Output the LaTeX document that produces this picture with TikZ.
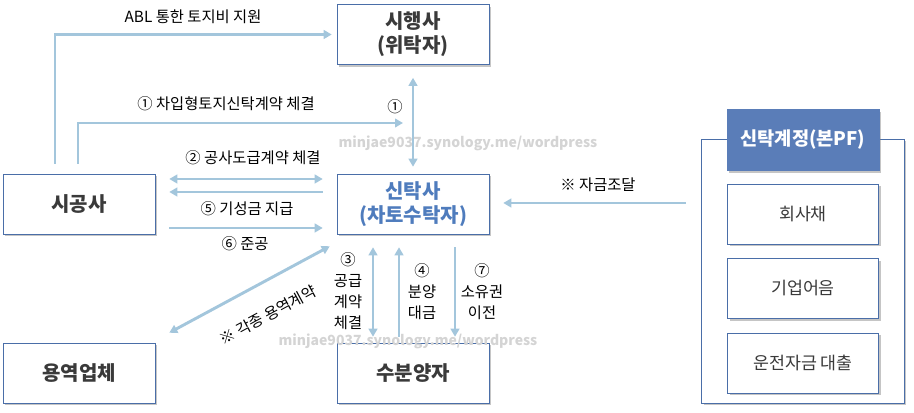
\documentclass[tikz,border=0pt]{standalone}
\usepackage{fontspec}
\setmainfont{Noto Sans CJK KR}
\usepackage{tikz}
\usetikzlibrary{calc,arrows.meta,shadows}

\definecolor{boxline}{HTML}{4A6EA8}
\definecolor{headfill}{HTML}{5A7DB8}
\definecolor{flowblue}{HTML}{A3C6DC}
\definecolor{trustblue}{HTML}{4F7CBD}
\definecolor{boxtext}{HTML}{3A3A3A}
\definecolor{markgray}{HTML}{D4D4D4}

\tikzset{
  party/.style={draw=boxline,fill=white,minimum width=114pt,minimum height=45pt,
    inner sep=0pt,font=\fontsize{15}{18}\selectfont\bfseries,text=boxtext,align=center,
    drop shadow={shadow xshift=1.8pt,shadow yshift=-1.8pt,opacity=0.45,fill=gray}},
  fund/.style={party,font=\fontsize{13}{15}\selectfont,minimum width=113pt},
  flow/.style={draw=flowblue,line width=2.2pt,>={Triangle[length=6pt,width=6.5pt]}},
  lbl/.style={font=\fontsize{11.5}{15.8}\selectfont,text=black,inner sep=0.75pt,align=center},
  wmark/.style={font=\fontsize{10.5}{12}\selectfont\bfseries,text=markgray,inner sep=0pt}
}

\begin{document}
\begin{tikzpicture}[x=0.75pt,y=0.75pt,yscale=-1,xscale=1]
\useasboundingbox (0,0) rectangle (914,413);

%Shape: Rectangle [trust account frame]
\node [draw=boxline,fill=white,minimum width=152pt,minimum height=198pt,inner sep=0pt,
  drop shadow={shadow xshift=1.8pt,shadow yshift=-1.8pt,opacity=0.45,fill=gray}]
  (account) at (802.5,271) {};
%Shape: Rectangle [parties]
\node [party] (siheng) at (413,34.5) {시행사\\(위탁자)};
\node [party] (sigong) at (79,204) {시공사};
\node [party] (yongyeok) at (79,373) {용역업체};
\node [party,text=trustblue] (sintak) at (413,204) {신탁사\\(차토수탁자)};
\node [party] (subun) at (413,373) {수분양자};
%Shape: Rectangle [funding]
\node [party,fill=headfill,draw=headfill,text=white,minimum height=46pt,
  font=\fontsize{14}{17}\selectfont\bfseries] (header) at (803,140) {신탁계정(본PF)};
\node [fund] (bond) at (803,214) {회사채};
\node [fund] (paper) at (803,288.5) {기업어음};
\node [fund] (loan) at (803,363) {운전자금 대출};

% Watermarks
\node [wmark] (mark1) at (468,143) {minjae9037.synology.me/wordpress};
\node [wmark] (mark2) at (408,341) {minjae9037.synology.me/wordpress};

%Straight Lines [ABL]
\draw [flow,->,shorten <=7.5pt,shorten >=3.75pt] ([xshift=-18pt]sigong.north) |- (siheng.west);
%Straight Lines [contract 1]
\coordinate (c1) at (403,123);
\draw [flow,->,shorten <=7.5pt] ([xshift=-0.75pt]sigong.north) |- (c1);
%Straight Lines [siheng - sintak]
\draw [flow,<->,shorten <=9.75pt,shorten >=5.25pt] (siheng.south) -- (sintak.north);
%Straight Lines [construction]
\draw [flow,<->] ($(sigong.east)+(14,-25)$) -- ($(sintak.west)+(-14,-25)$);
\draw [flow,<-] ($(sigong.east)+(14,-12)$) -- ($(sintak.west)+(-14,-12)$);
\draw [flow,->] ($(sigong.east)+(14,24)$) -- ($(sintak.west)+(-14,24)$);
%Straight Lines [service]
\draw [flow,<->] ($(yongyeok.north east)+(14,-10)$) -- ($(sintak.south west)+(-7,12)$);
%Straight Lines [buyers]
\draw [flow,<->] ($(sintak.south)+(-40,13)$) -- ($(subun.north)+(-40,-6)$);
\draw [flow,->] ($(subun.north)+(-14,-6)$) -- ($(sintak.south)+(-14,13)$);
\draw [flow,->] ($(sintak.south)+(42,13)$) -- ($(subun.north)+(42,-6)$);
%Straight Lines [funding]
\draw [flow,->] ($(account.west|-sintak.east)+(-15,-1)$) -- ($(sintak.east)+(14,-1)$);

% Text Node
\node [lbl] (tabl) at (193,17) {ABL 통한 토지비 지원};
% Text Node
\node [lbl] (tone) at (226,104) {① 차입형토지신탁계약 체결};
% Text Node
\node [lbl] (tonealt) at (395,107) {①};
% Text Node
\node [lbl] (ttwo) at (253,158) {② 공사도급계약 체결};
% Text Node
\node [lbl] (tfive) at (247,209) {⑤ 기성금 지급};
% Text Node
\node [lbl] (tsix) at (245,244) {⑥ 준공};
% Text Node
\node [lbl,rotate=28.4] (tservice) at (268,315) {※ 각종 용역계약};
% Text Node
\node [lbl] (tthree) at (348,291) {③\\공급\\계약\\체결};
% Text Node
\node [lbl] (tfour) at (422,292) {④\\분양\\대금};
% Text Node
\node [lbl] (tseven) at (482,292) {⑦\\소유권\\이전};
% Text Node
\node [lbl] (tfund) at (598,185) {※ 자금조달};

\end{tikzpicture}
\end{document}
